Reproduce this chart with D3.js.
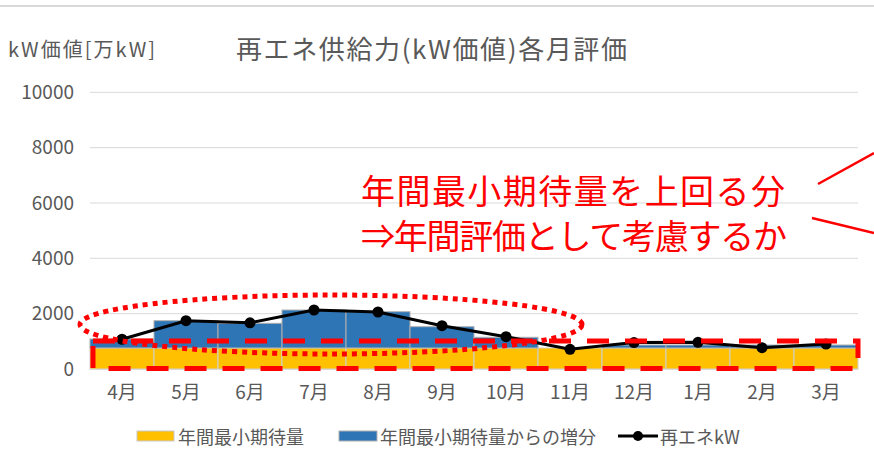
<!DOCTYPE html>
<html>
<head>
<meta charset="utf-8">
<script src="https://cdn.jsdelivr.net/npm/d3@7"></script>
<style>
  body { margin: 0; background: #fff; }
  svg { display: block; }
  text { font-family: "Noto Sans CJK JP", "Noto Sans", sans-serif; }
</style>
</head>
<body>
<svg id="chart" width="874" height="462"></svg>
<script>
// Monthly renewable supply capacity (kW value), unit: 万kW
const months = ["4月", "5月", "6月", "7月", "8月", "9月", "10月", "11月", "12月", "1月", "2月", "3月"];
const annualMinimum = [760, 760, 760, 760, 760, 760, 760, 760, 760, 760, 760, 760];
const increaseOverMinimum = [324, 986, 892, 1372, 1310, 769, 386, 0, 107, 107, 107, 107];
const renewableKW = [1075, 1746, 1670, 2132, 2060, 1565, 1167, 712, 955, 965, 770, 900];
const yTicks = [0, 2000, 4000, 6000, 8000, 10000];
const legendLabels = ["年間最小期待量", "年間最小期待量からの増分", "再エネkW"];

const svg = d3.select("#chart");
const grey = "#595959";
const red = "#FF0000";

const x = d3.scaleBand().domain(months).range([90, 858]).padding(0);
const y = d3.scaleLinear().domain([0, 10000]).range([369, 92.3]);

// top frame line
svg.append("line").attr("x1", 0).attr("x2", 874).attr("y1", 6).attr("y2", 6)
  .attr("stroke", "#D9D9D9").attr("stroke-width", 2);

// titles
svg.append("text").attr("x", 236).attr("y", 47).attr("dominant-baseline", "central")
  .attr("font-size", 26).attr("fill", grey).attr("textLength", 391)
  .text("再エネ供給力(kW価値)各月評価");
svg.append("text").attr("x", 8).attr("y", 48).attr("dominant-baseline", "central")
  .attr("font-size", 20).attr("fill", grey).attr("textLength", 147)
  .text("kW価値[万kW]");

// gridlines
svg.append("g").selectAll("line").data(yTicks).join("line")
  .attr("x1", 90).attr("x2", 858)
  .attr("y1", d => y(d)).attr("y2", d => y(d))
  .attr("stroke", "#D9D9D9").attr("stroke-width", 1);

// y axis labels
const yAxis = svg.append("g").attr("transform", "translate(90,0)")
  .call(d3.axisLeft(y).tickValues(yTicks).tickSize(0).tickPadding(16).tickFormat(d3.format("d")));
yAxis.select(".domain").remove();
yAxis.selectAll("text").attr("font-size", 19).attr("fill", grey)
  .style("font-family", "\"Noto Sans CJK JP\", sans-serif");

// stacked bars
const data = months.map((m, i) => ({ m, base: annualMinimum[i], inc: increaseOverMinimum[i], kw: renewableKW[i] }));
svg.append("g").selectAll("rect").data(data).join("rect")
  .attr("x", d => x(d.m)).attr("width", x.bandwidth())
  .attr("y", d => y(d.base)).attr("height", d => y(0) - y(d.base))
  .attr("fill", "#FFC000").attr("stroke", "#D0D0D0").attr("stroke-width", 1);
svg.append("g").selectAll("rect").data(data.filter(d => d.inc > 0)).join("rect")
  .attr("x", d => x(d.m)).attr("width", x.bandwidth())
  .attr("y", d => y(d.base + d.inc)).attr("height", d => y(d.base) - y(d.base + d.inc))
  .attr("fill", "#2E75B6").attr("stroke", "#B0B0B0").attr("stroke-width", 1);

// x axis
const xAxis = svg.append("g").attr("transform", "translate(0,369)")
  .call(d3.axisBottom(x).tickSize(0).tickPadding(17));
xAxis.select(".domain").attr("stroke", "#D9D9D9");
xAxis.selectAll("text").attr("font-size", 19).attr("fill", grey)
  .style("font-family", "\"Noto Sans CJK JP\", sans-serif");

// renewable kW line
const cx = d => x(d.m) + x.bandwidth() / 2;
svg.append("path").datum(data)
  .attr("d", d3.line().x(cx).y(d => y(d.kw)))
  .attr("fill", "none").attr("stroke", "#000").attr("stroke-width", 3);
svg.append("g").selectAll("circle").data(data).join("circle")
  .attr("cx", cx).attr("cy", d => y(d.kw)).attr("r", 5.5).attr("fill", "#000");

// annotation: dashed box around annual minimum
const minTop = y(d3.max(annualMinimum)) - 7;
svg.append("rect")
  .attr("x", 93).attr("y", minTop).attr("width", 858 - 93).attr("height", 368.5 - minTop)
  .attr("fill", "none").attr("stroke", red).attr("stroke-width", 5)
  .attr("stroke-dasharray", "22 16");

// annotation: dotted ellipse around summer increase
svg.append("ellipse").attr("cx", 331).attr("cy", 324.5).attr("rx", 251).attr("ry", 29.5)
  .attr("fill", "none").attr("stroke", red).attr("stroke-width", 5)
  .attr("stroke-dasharray", "5 5");

// annotation text
svg.append("text").attr("x", 361).attr("y", 189).attr("dominant-baseline", "central")
  .attr("font-size", 34).attr("fill", red).attr("textLength", 424)
  .text("年間最小期待量を上回る分");
svg.append("text").attr("x", 361).attr("y", 234).attr("dominant-baseline", "central")
  .attr("font-size", 34).attr("fill", red).attr("textLength", 426)
  .text("⇒年間評価として考慮するか");
svg.append("line").attr("x1", 818).attr("y1", 184).attr("x2", 874).attr("y2", 153)
  .attr("stroke", red).attr("stroke-width", 2.5);
svg.append("line").attr("x1", 812).attr("y1", 218).attr("x2", 874).attr("y2", 233)
  .attr("stroke", red).attr("stroke-width", 2.5);

// legend
const lg = svg.append("g");
const ly = 436;
lg.append("rect").attr("x", 137).attr("y", ly - 5).attr("width", 37).attr("height", 10)
  .attr("fill", "#FFC000").attr("stroke", "#C8C8C8");
lg.append("text").attr("x", 178).attr("y", ly).attr("dominant-baseline", "central")
  .attr("font-size", 18).attr("fill", grey).text(legendLabels[0]);
lg.append("rect").attr("x", 339).attr("y", ly - 5).attr("width", 38).attr("height", 10)
  .attr("fill", "#2E75B6").attr("stroke", "#B0B0B0");
lg.append("text").attr("x", 380).attr("y", ly).attr("dominant-baseline", "central")
  .attr("font-size", 18).attr("fill", grey).text(legendLabels[1]);
lg.append("line").attr("x1", 618).attr("x2", 658).attr("y1", ly).attr("y2", ly)
  .attr("stroke", "#000").attr("stroke-width", 3);
lg.append("circle").attr("cx", 638).attr("cy", ly).attr("r", 5).attr("fill", "#000");
lg.append("text").attr("x", 660).attr("y", ly).attr("dominant-baseline", "central")
  .attr("font-size", 18).attr("fill", grey).text(legendLabels[2]);
</script>
</body>
</html>
